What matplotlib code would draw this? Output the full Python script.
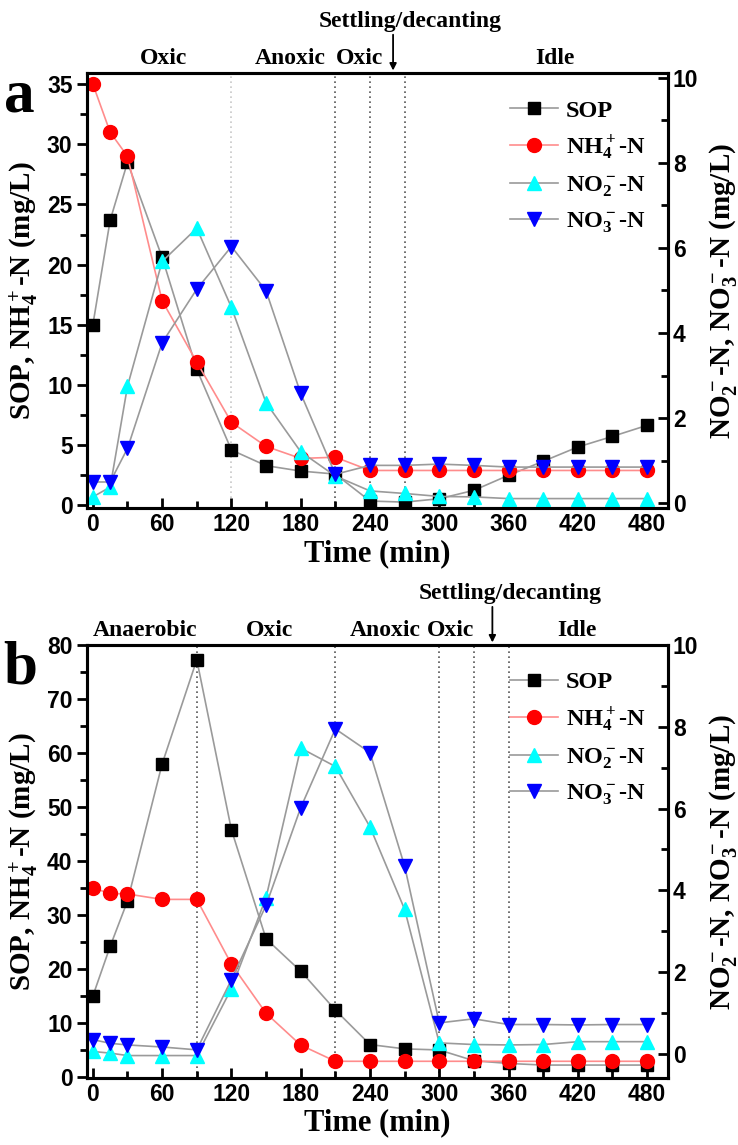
import numpy as np
import matplotlib
matplotlib.use("Agg")
import matplotlib.pyplot as plt
from matplotlib.ticker import MultipleLocator

plt.rcParams['font.family'] = 'Liberation Serif'
plt.rcParams['font.weight'] = 'bold'
plt.rcParams['axes.labelweight'] = 'bold'
plt.rcParams['mathtext.fontset'] = 'custom'
plt.rcParams['mathtext.rm'] = 'Liberation Serif:bold'
plt.rcParams['mathtext.it'] = 'Liberation Serif:bold'
plt.rcParams['mathtext.bf'] = 'Liberation Serif:bold'
plt.rcParams['mathtext.default'] = 'rm'

# sampling times (min)
t = [0, 15, 30, 60, 90, 120, 150, 180, 210, 240, 270, 300, 330, 360, 390, 420, 450, 480]

# panel a
a_sop = [15.0, 23.7, 28.5, 20.6, 11.3, 4.6, 3.3, 2.85, 2.6, 0.36, 0.27, 0.55, 1.25, 2.5, 3.66, 4.85, 5.73, 6.65]
a_nh4 = [35.0, 31.0, 29.0, 17.0, 11.9, 6.9, 4.9, 3.9, 4.0, 2.9, 2.9, 2.9, 2.9, 2.9, 2.9, 2.9, 2.9, 2.9]
a_no2 = [0.15, 0.38, 2.75, 5.68, 6.46, 4.6, 2.36, 1.21, 0.64, 0.29, 0.23, 0.16, 0.15, 0.11, 0.11, 0.11, 0.11, 0.11]
a_no3 = [0.5, 0.5, 1.29, 3.77, 5.03, 6.03, 4.99, 2.58, 0.68, 0.89, 0.89, 0.92, 0.89, 0.85, 0.85, 0.85, 0.85, 0.85]

# panel b
b_sop = [15.0, 24.2, 32.6, 58.0, 77.3, 45.8, 25.6, 19.6, 12.4, 6.0, 5.2, 5.0, 3.0, 2.5, 2.2, 2.2, 2.2, 2.2]
b_nh4 = [35.0, 34.0, 33.9, 32.9, 32.9, 20.9, 11.8, 5.9, 2.9, 2.9, 2.9, 2.9, 2.9, 2.9, 2.9, 2.9, 2.9, 2.9]
b_no2 = [0.05, 0.01, -0.05, -0.05, -0.05, 1.59, 3.82, 7.48, 7.03, 5.55, 3.53, 0.26, 0.22, 0.21, 0.22, 0.29, 0.29, 0.29]
b_no3 = [0.34, 0.25, 0.21, 0.16, 0.09, 1.81, 3.63, 6.02, 7.95, 7.37, 4.59, 0.75, 0.85, 0.71, 0.71, 0.70, 0.71, 0.71]

# phase boundaries and labels
a_lines = [120, 210, 240, 270]
a_phases = ["Oxic", "Anoxic", "Oxic", "Idle"]
a_phase_x = [61, 171, 231, 400]
a_arrow_x = 260

b_lines = [90, 210, 300, 330, 360]
b_phases = ["Anaerobic", "Oxic", "Anoxic", "Oxic", "Idle"]
b_phase_x = [45, 153, 253, 310, 419]
b_arrow_x = 346

labels = ["SOP", "NH$_4^+$-N", "NO$_2^-$-N", "NO$_3^-$-N"]

fig = plt.figure(figsize=(7.38, 11.45), dpi=100)

tickfont = dict(family='Liberation Sans', weight='bold', size=16.5)


def panel(rect, sop, nh4, no2, no3, vlines, light, phases, phase_x, arrow_x,
          left_lim, right_lim, left_major, left_minor, letter, leg_y):
    ax = fig.add_axes(rect)
    ax2 = ax.twinx()
    gray = '#9a9a9a'
    h1, = ax.plot(t, sop, '-s', color=gray, lw=1.2, mfc='black', mec='black', ms=8, label=labels[0])
    h2, = ax.plot(t, nh4, '-o', color='#ff8c8c', lw=1.2, mfc='red', mec='red', ms=10, label=labels[1])
    h3, = ax2.plot(t, no2, '-^', color=gray, lw=1.2, mfc='cyan', mec='cyan', ms=10, label=labels[2])
    h4, = ax2.plot(t, no3, '-v', color=gray, lw=1.2, mfc='blue', mec='blue', ms=10, label=labels[3])

    for x in vlines:
        c = '#c8c8c8' if x in light else '#555555'
        ax.axvline(x, color=c, ls=(0, (1, 2)), lw=1.2, zorder=0)

    ax.set_xlim(-5, 498)
    ax.set_ylim(*left_lim)
    ax2.set_ylim(*right_lim)
    ax.xaxis.set_major_locator(MultipleLocator(60))
    ax.xaxis.set_minor_locator(MultipleLocator(30))
    ax.yaxis.set_major_locator(MultipleLocator(left_major))
    ax.yaxis.set_minor_locator(MultipleLocator(left_minor))
    ax2.yaxis.set_major_locator(MultipleLocator(2))
    ax2.yaxis.set_minor_locator(MultipleLocator(1))

    ax.tick_params(axis='x', which='both', direction='in', top=False, width=2)
    ax.tick_params(axis='x', which='major', length=7)
    ax.tick_params(axis='x', which='minor', length=5)
    ax.tick_params(axis='y', which='both', direction='out', width=2)
    ax.tick_params(axis='y', which='major', length=7)
    ax.tick_params(axis='y', which='minor', length=5)
    ax2.tick_params(axis='y', which='both', direction='in', width=2)
    ax2.tick_params(axis='y', which='major', length=7)
    ax2.tick_params(axis='y', which='minor', length=5)
    for a in (ax, ax2):
        for lab in a.get_xticklabels() + a.get_yticklabels():
            lab.set_fontproperties(tickfont)
        for s in a.spines.values():
            s.set_linewidth(2.2)

    ax.set_xlabel("Time (min)", fontsize=22, labelpad=2)
    ax.set_ylabel("SOP, NH$_4^+$-N (mg/L)", fontsize=21, labelpad=4)
    ax2.set_ylabel("NO$_2^-$-N, NO$_3^-$-N (mg/L)", fontsize=21, labelpad=6)

    trans = ax.get_xaxis_transform()
    for name, x in zip(phases, phase_x):
        ax.text(x, 1.035, name, transform=trans, ha='center', va='center', fontsize=17)
    ax.text(arrow_x + 15, 1.12, "Settling/decanting", transform=trans, ha='center', va='center', fontsize=17)
    ax.annotate("", xy=(arrow_x, 1.0), xytext=(arrow_x, 1.095), xycoords=trans, textcoords=trans,
                arrowprops=dict(arrowstyle='-|>', color='black', lw=1.3, mutation_scale=10))

    fig.text(0.005, rect[1] + rect[3] - 0.02, letter, fontsize=44, ha='left', va='center')

    ax2.legend([h1, h2, h3, h4], labels, loc='upper left', bbox_to_anchor=(0.69, leg_y),
               frameon=False, fontsize=17.5, handlelength=2.0, handletextpad=0.3, labelspacing=0.5)
    ax2.set_zorder(ax.get_zorder() + 1)
    return ax


panel([0.118, 0.556, 0.787, 0.380], a_sop, a_nh4, a_no2, a_no3, a_lines, [120],
      a_phases, a_phase_x, a_arrow_x, (-0.25, 35.9), (-0.12, 10.1), 5, 2.5, "a", 0.99)
panel([0.118, 0.0585, 0.787, 0.378], b_sop, b_nh4, b_no2, b_no3, b_lines, [],
      b_phases, b_phase_x, b_arrow_x, (-0.2, 80.0), (-0.6, 10.0), 10, 5, "b", 0.99)

fig.savefig("out.png", dpi=100)
